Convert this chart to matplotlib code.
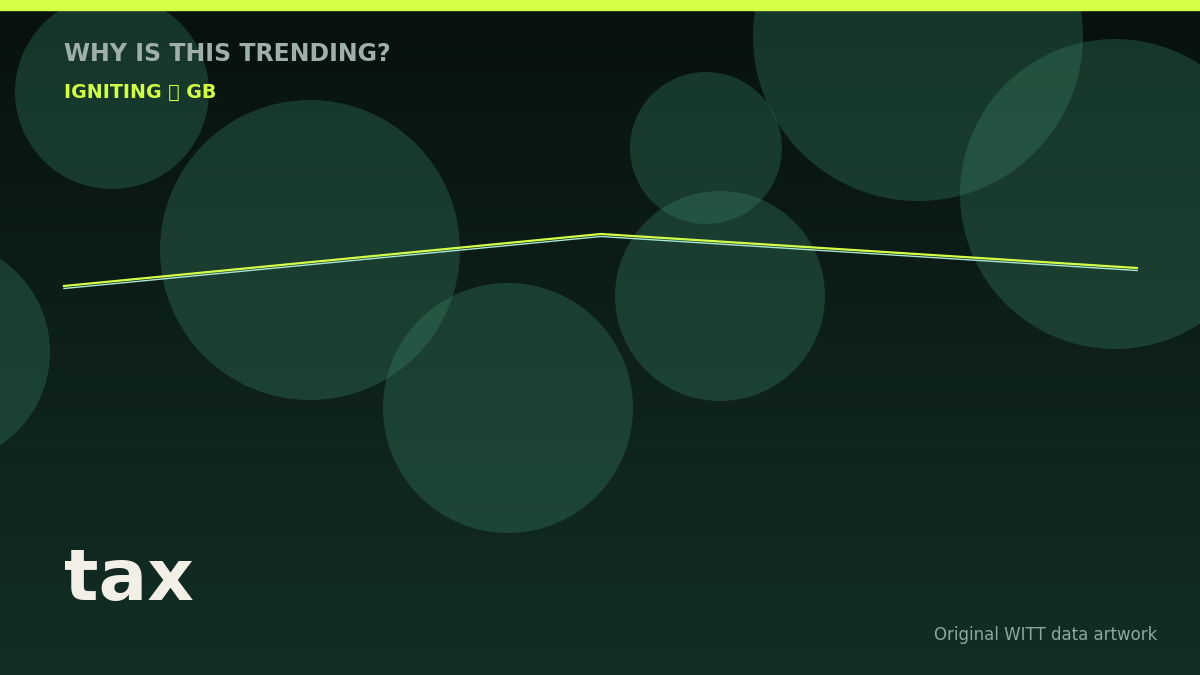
import numpy as np
import matplotlib
matplotlib.use("Agg")
import matplotlib.pyplot as plt
from matplotlib.patches import Circle
from matplotlib.colors import LinearSegmentedColormap

W, H = 1200, 675

# decorative bubbles (centre x, centre y, radius) in pixel space
bubble_x = [112, 310, 508, 706, 720, 918, 1115, -62]
bubble_y = [92, 250, 408, 148, 296, 36, 194, 352]
bubble_r = [97, 150, 125, 76, 105, 165, 155, 112]

# trend line
trend_x = [64, 601, 1137]
trend_y = [286, 234, 268]

title = "WHY IS THIS TRENDING?"
subtitle = "IGNITING \U0001F525 GB"
keyword = "tax"
credit = "Original WITT data artwork"

fig = plt.figure(figsize=(12, 6.75), dpi=100)
ax = fig.add_axes([0, 0, 1, 1])
ax.set_xlim(0, W)
ax.set_ylim(H, 0)
ax.axis("off")

# background gradient
cmap = LinearSegmentedColormap.from_list("bg", ["#07110e", "#132e25"])
grad = np.linspace(0, 1, 256).reshape(-1, 1)
ax.imshow(grad, cmap=cmap, extent=[0, W, H, 0], aspect="auto", zorder=0)

# bubbles
for cx, cy, r in zip(bubble_x, bubble_y, bubble_r):
    ax.add_patch(Circle((cx, cy), r, facecolor="#3d8c6c", alpha=0.3,
                        edgecolor="none", zorder=1))

# top bar
ax.fill_between([0, W], 0, 10, color="#d4ff47", zorder=3)

# trend line (glow + offset)
ax.plot(trend_x, np.array(trend_y) + 2.5, color="#a8e6cf", lw=1.0, zorder=4,
        solid_joinstyle="round")
ax.plot(trend_x, trend_y, color="#d4ff47", lw=1.6, zorder=5,
        solid_joinstyle="round")

ax.text(64, 54, title, color="#9fb0aa", fontsize=17, fontweight="bold",
        va="center", ha="left", zorder=6)
ax.text(64, 92, subtitle, color="#d4ff47", fontsize=13.7, fontweight="bold",
        va="center", ha="left", zorder=6)
ax.text(64, 600, keyword, color="#f2efe6", fontsize=52, fontweight="bold",
        va="baseline", ha="left", zorder=6)
ax.text(1157, 640, credit, color="#8fa89e", fontsize=12,
        va="baseline", ha="right", zorder=6)

fig.savefig("out.png", dpi=100)
plt.close(fig)
